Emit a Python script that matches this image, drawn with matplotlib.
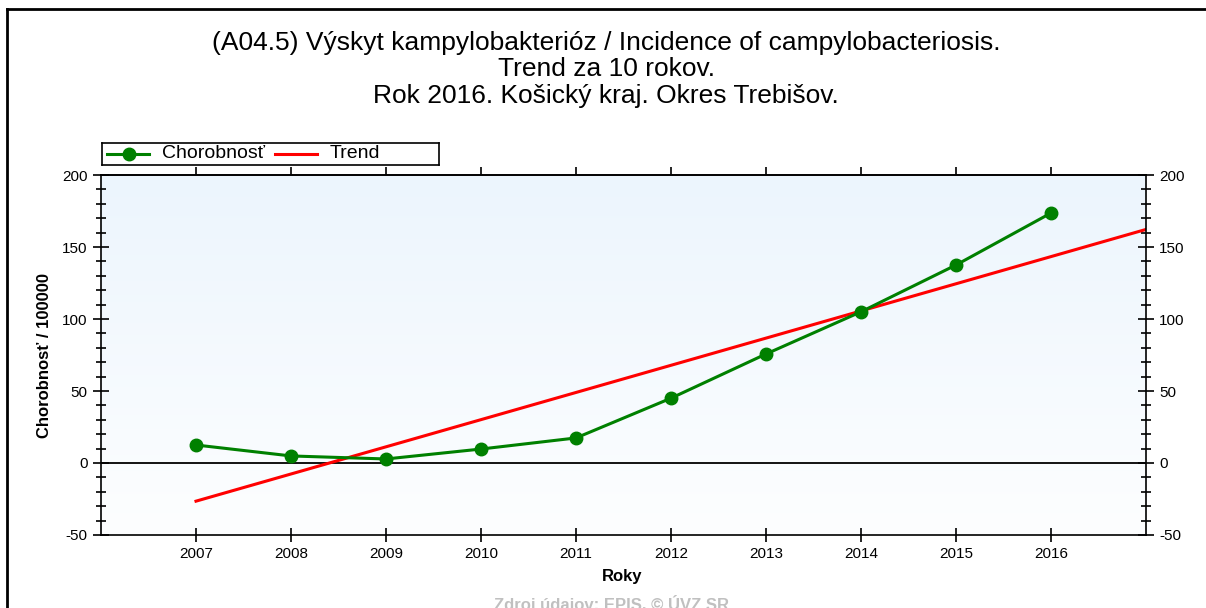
import numpy as np
import matplotlib
matplotlib.use("Agg")
import matplotlib.pyplot as plt
from matplotlib.lines import Line2D
from matplotlib.colors import LinearSegmentedColormap

plt.rcParams['font.family'] = ['Liberation Sans', 'DejaVu Sans']
plt.rcParams['axes.unicode_minus'] = False

years = [2007, 2008, 2009, 2010, 2011, 2012, 2013, 2014, 2015, 2016]
incidence = [12.5, 4.9, 2.8, 9.7, 17.4, 45.0, 75.7, 105.0, 137.5, 173.6]
trend_years = [2007, 2017]
trend_values = [-26.5, 162.2]
y_ticks = [-50, 0, 50, 100, 150, 200]

title_lines = ["(A04.5) Výskyt kampylobakterióz / Incidence of campylobacteriosis.",
               "Trend za 10 rokov.",
               "Rok 2016. Košický kraj. Okres Trebišov."]

W, H = 1206, 608
fig = plt.figure(figsize=(W / 100, H / 100), dpi=100)
fig.patch.set_facecolor('white')

# plot area in pixels: left 101, right 1146, top 175, bottom 535
L, R, T, B = 101, 1146, 175, 535
ax = fig.add_axes([L / W, 1 - B / H, (R - L) / W, (B - T) / H])
ax.set_xlim(2006, 2017)
ax.set_ylim(-50, 200)

# gradient background
cmap = LinearSegmentedColormap.from_list('bg', ['#fdfeff', '#ecf5fd'])
grad = np.linspace(0, 1, 256).reshape(-1, 1)
ax.imshow(grad, extent=[2006, 2017, -50, 200], origin='lower', aspect='auto',
          cmap=cmap, zorder=0)

ax.axhline(0, color='black', lw=1.3, zorder=1)
ax.plot(trend_years, trend_values, color='#ff0000', lw=2.2, zorder=2)
ax.plot(years, incidence, color='#008000', lw=2.2, marker='o', markersize=9,
        zorder=3)

for s in ax.spines.values():
    s.set_color('black')
    s.set_linewidth(1.2)

ax.set_xticks(years)
ax.set_xticklabels([str(y) for y in years])
ax.set_yticks(y_ticks)
ax.set_yticks(np.arange(-50, 201, 10), minor=True)
ax.tick_params(axis='x', which='major', direction='inout', length=10, width=1.2,
               labelsize=11, pad=4, top=False, labeltop=False)
ax.tick_params(axis='y', which='major', direction='inout', length=12, width=1.2,
               labelsize=11, left=True, right=True, labelleft=True, labelright=True)
ax.tick_params(axis='y', which='minor', direction='inout', length=7, width=1.2,
               left=True, right=True)

# top ticks pointing outward only
sec = ax.secondary_xaxis('top')
sec.set_xticks(years)
sec.tick_params(axis='x', direction='out', length=6, width=1.2, labeltop=False)
sec.spines['top'].set_linewidth(1.2)

ax.set_xlabel('Roky', fontsize=12, fontweight='bold')
ax.xaxis.set_label_coords((622 - L) / (R - L), -(577 - B) / (B - T))
ax.xaxis.label.set_va('center')
ax.set_ylabel('Chorobnosť / 100000', fontsize=12, fontweight='bold')
ax.yaxis.set_label_coords(-(101 - 45) / (R - L), 0.5)
ax.yaxis.label.set_va('center')

for txt, yc in zip(title_lines, [43, 69, 96]):
    fig.text(606 / W, 1 - yc / H, txt, ha='center', va='center', fontsize=19)

# legend box
lax = fig.add_axes([102 / W, 1 - 165 / H, (439 - 102) / W, (165 - 143) / H])
lax.set_xlim(102, 439)
lax.set_ylim(0, 22)
lax.set_xticks([])
lax.set_yticks([])
for s in lax.spines.values():
    s.set_color('black')
    s.set_linewidth(1.2)
lax.plot([107, 149], [11, 11], color='#008000', lw=2.2)
lax.plot([129], [11], color='#008000', marker='o', markersize=9)
lax.text(162, 11, 'Chorobnosť', va='center', ha='left', fontsize=14)
lax.plot([275, 317], [11, 11], color='#ff0000', lw=2.2)
lax.text(330, 11, 'Trend', va='center', ha='left', fontsize=14)

fig.text(612 / W, 1 - 604 / H, 'Zdroj údajov: EPIS, © ÚVZ SR', ha='center',
         va='center', fontsize=12, fontweight='bold', color='#c0c0c0')

# outer frame lines (top and left)
fig.add_artist(Line2D([7 / W, 1], [1 - 9 / H, 1 - 9 / H], color='black', lw=2,
                      transform=fig.transFigure))
fig.add_artist(Line2D([7 / W, 7 / W], [0, 1 - 9 / H], color='black', lw=2,
                      transform=fig.transFigure))

fig.savefig('out.png', dpi=100)
